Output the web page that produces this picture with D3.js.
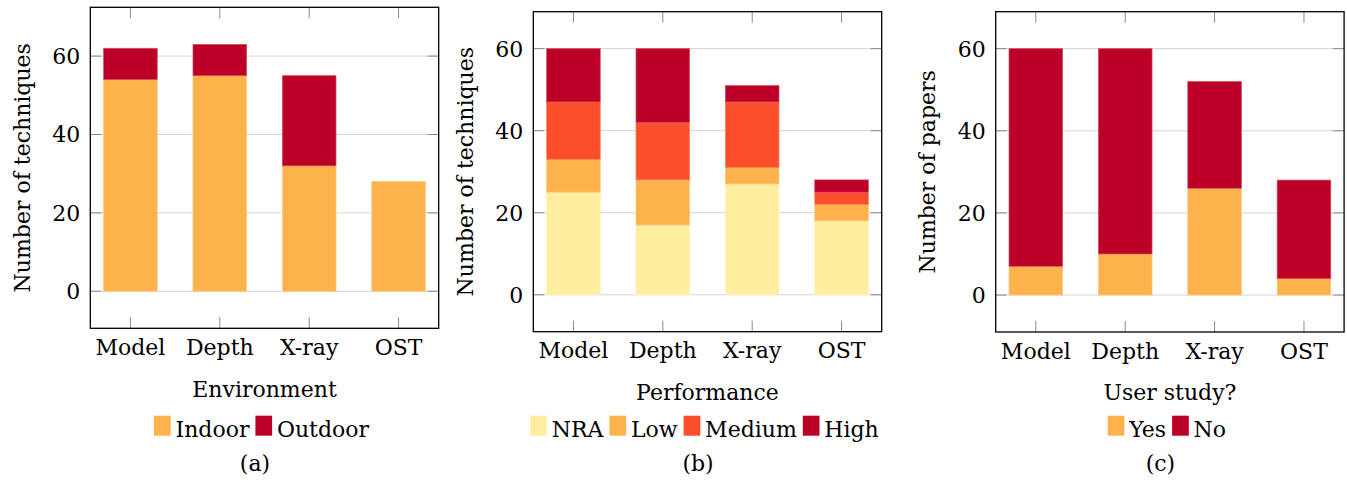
<!DOCTYPE html>
<html lang="en">
<head>
<meta charset="utf-8">
<script src="https://cdn.jsdelivr.net/npm/d3@7"></script>
<style>
  body { margin: 0; background: #fff; }
  text { font-family: "DejaVu Serif", serif; font-size: 22px; fill: #000; }
  .grid-line { stroke: #d4d4d4; stroke-width: 1; }
  .tick-mark { stroke: #8a8a8a; stroke-width: 1; }
  .frame { fill: none; stroke: #000; stroke-width: 1.3; }
</style>
</head>
<body>
<script>
  // categories shared by all three panels
  var categories = ["Model", "Depth", "X-ray", "OST"];
  var yTicks = [0, 20, 40, 60];

  // (a) environment
  var envSeries = ["Indoor", "Outdoor"];
  var envIndoor = [54, 55, 32, 28];
  var envOutdoor = [8, 8, 23, 0];

  // (b) performance
  var perfSeries = ["NRA", "Low", "Medium", "High"];
  var perfNRA = [25, 17, 27, 18];
  var perfLow = [8, 11, 4, 4];
  var perfMedium = [14, 14, 16, 3];
  var perfHigh = [13, 18, 4, 3];

  // (c) user study
  var studySeries = ["Yes", "No"];
  var studyYes = [7, 10, 26, 4];
  var studyNo = [53, 50, 26, 24];

  var colors = {
    NRA: "#ffeda0", Low: "#feb24c", Medium: "#fc4e2a", High: "#bd0026",
    Indoor: "#feb24c", Outdoor: "#bd0026",
    Yes: "#feb24c", No: "#bd0026"
  };

  var svg = d3.select("body").append("svg")
      .attr("width", 1347)
      .attr("height", 483);

  var panels = [
    {left: 90.3, top: 7.3, width: 348.4, height: 321, series: envSeries,
     values: [envIndoor, envOutdoor], yLabel: "Number of techniques",
     xLabel: "Environment", caption: "(a)"},
    {left: 533.3, top: 11.7, width: 348.4, height: 320, series: perfSeries,
     values: [perfNRA, perfLow, perfMedium, perfHigh], yLabel: "Number of techniques",
     xLabel: "Performance", caption: "(b)"},
    {left: 995.7, top: 11.7, width: 348.4, height: 320.3, series: studySeries,
     values: [studyYes, studyNo], yLabel: "Number of papers",
     xLabel: "User study?", caption: "(c)"}
  ];

  panels.forEach(drawPanel);

  function drawPanel(cfg) {
    var rows = categories.map(function(c, i) {
      var r = {cat: c};
      cfg.series.forEach(function(s, j) { r[s] = cfg.values[j][i]; });
      return r;
    });

    var stacked = d3.stack().keys(cfg.series)(rows);
    var maxTotal = d3.max(stacked[stacked.length - 1], d => d[1]);

    var x = d3.scaleBand()
        .domain(categories)
        .range([0, cfg.width])
        .paddingInner(0.4)
        .paddingOuter(0.149);

    // pgfplots style enlarged limits
    var y = d3.scaleLinear()
        .domain([-0.15 * maxTotal, 1.15 * maxTotal])
        .range([cfg.height, 0]);

    var g = svg.append("g")
        .attr("transform", "translate(" + [cfg.left, cfg.top] + ")");

    // grid
    g.append("g").selectAll("line")
      .data(yTicks)
      .enter().append("line")
        .attr("class", "grid-line")
        .attr("x1", 0).attr("x2", cfg.width)
        .attr("y1", d => y(d)).attr("y2", d => y(d));

    // bars
    g.append("g").selectAll("g")
      .data(stacked)
      .enter().append("g")
        .attr("fill", d => colors[d.key])
        .attr("stroke", d => d3.interpolateRgb(colors[d.key], "#fff")(0.3))
        .attr("stroke-width", 0.7)
      .selectAll("rect")
      .data(d => d.filter(v => v[1] - v[0] > 0))
      .enter().append("rect")
        .attr("x", d => x(d.data.cat))
        .attr("width", x.bandwidth())
        .attr("y", d => y(d[1]))
        .attr("height", d => y(d[0]) - y(d[1]));

    // y ticks at both sides
    var tl = 11;
    var ticks = g.append("g");
    yTicks.forEach(function(t) {
      ticks.append("line").attr("class", "tick-mark")
        .attr("x1", 0).attr("x2", tl).attr("y1", y(t)).attr("y2", y(t));
      ticks.append("line").attr("class", "tick-mark")
        .attr("x1", cfg.width - tl).attr("x2", cfg.width).attr("y1", y(t)).attr("y2", y(t));
    });
    categories.forEach(function(c) {
      var cx = x(c) + x.bandwidth() / 2;
      ticks.append("line").attr("class", "tick-mark")
        .attr("x1", cx).attr("x2", cx).attr("y1", cfg.height).attr("y2", cfg.height - tl);
      ticks.append("line").attr("class", "tick-mark")
        .attr("x1", cx).attr("x2", cx).attr("y1", 0).attr("y2", tl);
    });

    // frame
    g.append("rect")
      .attr("class", "frame")
      .attr("width", cfg.width)
      .attr("height", cfg.height);

    // y tick labels
    g.append("g").selectAll("text")
      .data(yTicks)
      .enter().append("text")
        .attr("x", -10)
        .attr("y", d => y(d) + 8)
        .attr("text-anchor", "end")
        .text(d => d);

    // x tick labels
    g.append("g").selectAll("text")
      .data(categories)
      .enter().append("text")
        .attr("x", d => x(d) + x.bandwidth() / 2)
        .attr("y", cfg.height + 26.8)
        .attr("text-anchor", "middle")
        .text(d => d);

    // axis labels
    g.append("text")
      .attr("text-anchor", "middle")
      .attr("transform", "translate(" + [-60.5, cfg.height / 2] + ") rotate(-90)")
      .text(cfg.yLabel);

    g.append("text")
      .attr("x", cfg.width / 2)
      .attr("y", cfg.height + 68.4)
      .attr("text-anchor", "middle")
      .text(cfg.xLabel);

    // legend, centred under the plot
    var legend = svg.append("g");
    var lx = 0;
    cfg.series.forEach(function(s, i) {
      legend.append("rect")
        .attr("x", lx).attr("y", 415.7)
        .attr("width", 16.7).attr("height", 20)
        .attr("fill", colors[s]);
      var t = legend.append("text")
        .attr("x", lx + 21.5)
        .attr("y", 436.7)
        .text(s);
      lx += 21.5 + t.node().getComputedTextLength() + 6;
    });
    lx -= 6;
    legend.attr("transform", "translate(" + [cfg.left + cfg.width / 2 - 3 - lx / 2, 0] + ")");

    // caption
    svg.append("text")
      .attr("x", cfg.left + cfg.width / 2 - 9.5)
      .attr("y", 471)
      .attr("text-anchor", "middle")
      .text(cfg.caption);
  }
</script>
</body>
</html>
